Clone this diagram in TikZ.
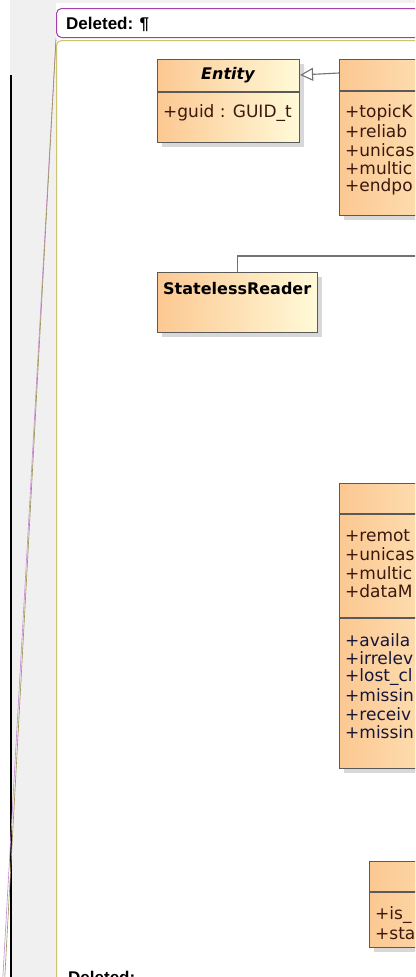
\documentclass[tikz,border=0pt]{standalone}
\usepackage{fontspec}
\setmainfont{DejaVu Sans}
\newfontfamily\balloonfont{Liberation Sans}
\usetikzlibrary{arrows.meta,positioning,shadows}
\definecolor{umlorange}{RGB}{252,200,146}
\definecolor{umlcream}{RGB}{255,250,216}
\definecolor{umledge}{RGB}{90,90,90}
\definecolor{attrink}{RGB}{58,24,14}
\definecolor{opink}{RGB}{22,22,58}
\definecolor{delpurple}{RGB}{165,60,175}
\definecolor{fmtolive}{RGB}{205,195,110}
\definecolor{panegray}{RGB}{240,240,240}

\tikzset{
  umlbox/.style={draw=umledge,line width=1.1pt,left color=umlorange,right color=umlcream,
    drop shadow={shadow xshift=4pt,shadow yshift=-4pt,fill=black!30},
    anchor=north west,inner sep=0pt},
  umlsep/.style={draw=umledge,line width=1.1pt},
  umlline/.style={draw=umledge!85,line width=1.1pt},
  member/.style={anchor=west,inner sep=0pt,font=\fontsize{17}{18}\selectfont,text=attrink},
  operation/.style={member,text=opink},
  classname/.style={inner sep=0pt,font=\bfseries\fontsize{16}{18}\selectfont},
  balloon/.style={rounded corners=5pt,line width=1pt,anchor=north west,inner sep=0pt,fill=white},
  balloontext/.style={anchor=base west,inner sep=0pt,font=\balloonfont\bfseries\fontsize{17}{18}\selectfont}
}

\begin{document}
\begin{tikzpicture}[x=1pt,y=-1pt]
  \useasboundingbox (0,0) rectangle (415,977);
  \clip (0,0) rectangle (415,977);
  % window background
  \fill[panegray] (10,0) rectangle (56,977);
  \fill[panegray] (10,0) rectangle (415,3);
  \draw[line width=2.2pt] (11,75) -- (11,977);

  % comment balloons
  \node[balloon,draw=delpurple,minimum width=400pt,minimum height=29pt] (delbox) at (56,8) {};
  \node[balloontext] (deltext) at (66,29) {Deleted: ¶};
  \node[balloon,draw=fmtolive,minimum width=400pt,minimum height=1000pt] (fmtbox) at (56,40) {};
  \node[balloontext] (deltextb) at (68,983) {Deleted:};
  \coordinate (delfoot) at (1,1010);
  \coordinate (fmtfoot) at (3,1010);
  \draw[delpurple!60,line width=0.6pt] (delbox.south west) -- (delfoot);
  \draw[fmtolive!75!black,line width=0.6pt] (fmtbox.north west) -- (fmtfoot);

  % Entity
  \node[umlbox,minimum width=142pt,minimum height=83pt] (entity) at (157,59) {};
  \draw[umlsep] ([yshift=-33pt]entity.north west) -- ([yshift=-33pt]entity.north east);
  \node[classname,font=\bfseries\itshape\fontsize{16}{18}\selectfont] (entityname) at (228,75) {Entity};
  \node[member] (guid) at (163,113) {+guid : GUID\_t};

  % Endpoint
  \node[umlbox,minimum width=200pt,minimum height=156pt] (endpoint) at (339,59) {};
  \draw[umlsep] ([yshift=-32pt]endpoint.north west) -- ([yshift=-32pt]endpoint.north east);
  \node[member] (topickind) at (345,113) {+topicK};
  \node[member] (reliability) at (345,131.5) {+reliab};
  \node[member] (unicastep) at (345,150) {+unicas};
  \node[member] (multicastep) at (345,168.5) {+multic};
  \node[member] (endpointid) at (345,187) {+endpo};
  \draw[umlline,-{Triangle[open,length=13pt,width=13pt]}] ([yshift=-14pt]endpoint.north west) -- ([yshift=-16pt]entity.north east);

  % StatelessReader
  \node[umlbox,minimum width=160pt,minimum height=60pt] (stateless) at (157,272) {};
  \node[classname,anchor=west] (statelessname) at (163,289) {StatelessReader};
  \coordinate (readerlink) at (420,256);
  \draw[umlline] (stateless.north) |- (readerlink);

  % WriterProxy
  \node[umlbox,minimum width=200pt,minimum height=285pt] (writerproxy) at (339,483) {};
  \draw[umlsep] ([yshift=-31pt]writerproxy.north west) -- ([yshift=-31pt]writerproxy.north east);
  \draw[umlsep] ([yshift=-135pt]writerproxy.north west) -- ([yshift=-135pt]writerproxy.north east);
  \node[member] (remotewriter) at (345,536) {+remot};
  \node[member] (unicastwp) at (345,554.5) {+unicas};
  \node[member] (multicastwp) at (345,573) {+multic};
  \node[member] (datamax) at (345,591.5) {+dataM};
  \node[operation] (available) at (345,640) {+availa};
  \node[operation] (irrelevant) at (345,658.5) {+irrelev};
  \node[operation] (lostchanges) at (345,677) {+lost\_cl};
  \node[operation] (missing) at (345,695.5) {+missin};
  \node[operation] (received) at (345,714) {+receiv};
  \node[operation] (missingupd) at (345,732.5) {+missin};

  % ChangeFromWriter
  \node[umlbox,minimum width=200pt,minimum height=86pt] (changefw) at (369,861) {};
  \draw[umlsep] ([yshift=-31pt]changefw.north west) -- ([yshift=-31pt]changefw.north east);
  \node[member] (isrelevant) at (375,915) {+is\_};
  \node[member] (status) at (375,933.5) {+sta};
\end{tikzpicture}
\end{document}
